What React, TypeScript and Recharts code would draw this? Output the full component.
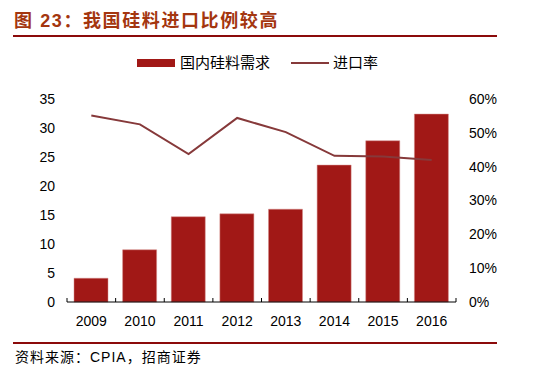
import React from "react";
import { ComposedChart, Bar, Line, XAxis, YAxis } from "recharts";

const years = ["2009", "2010", "2011", "2012", "2013", "2014", "2015", "2016"];
const demand = [4.1, 9.0, 14.7, 15.2, 16.0, 23.6, 27.8, 32.4];
const importRate = [0.551, 0.525, 0.437, 0.544, 0.502, 0.432, 0.43, 0.42];
const leftTicks = [0, 5, 10, 15, 20, 25, 30, 35];
const rightTicks = [0, 0.1, 0.2, 0.3, 0.4, 0.5, 0.6];

const data = years.map((year, i) => ({
  year,
  pos: i + 0.5,
  demand: demand[i],
  rate: importRate[i],
}));

// ticks at category edges (integers) and labels at category centres (halves)
const xTicks = Array.from({ length: years.length * 2 + 1 }, (_, i) => i / 2);

const BAR = "#a11816";
const LINE = "#86393a";
const DARK = "#8b0a0a";
const latin = "'Liberation Sans', Arial, sans-serif";
const cjk = "'Liberation Sans', 'Noto Sans CJK SC', sans-serif";

function XTick(props: any) {
  const { x, y, payload } = props;
  const v = payload.value as number;
  if (Number.isInteger(v)) {
    return <line x1={x} x2={x} y1={y} y2={y - 4} stroke="#000" strokeWidth={1} />;
  }
  return (
    <text x={x} y={y + 24} textAnchor="middle" fontSize={14} fontFamily={latin} fill="#000">
      {years[Math.floor(v)]}
    </text>
  );
}

function LegendBox() {
  return (
    <div
      style={{
        position: "absolute",
        left: 137,
        top: 53,
        display: "flex",
        alignItems: "center",
        fontFamily: cjk,
        fontSize: 15,
        lineHeight: "20px",
        color: "#000",
      }}
    >
      <span style={{ display: "inline-block", width: 38, height: 8, background: BAR, marginRight: 5 }} />
      <span>国内硅料需求</span>
      <span style={{ display: "inline-block", width: 38, height: 2, background: LINE, marginLeft: 21, marginRight: 4 }} />
      <span>进口率</span>
    </div>
  );
}

export default function App() {
  return (
    <div style={{ position: "absolute", left: 0, top: 0, width: 547, height: 383, background: "#fff" }}>
      <div
        style={{
          position: "absolute",
          left: 14,
          top: 9,
          fontFamily: cjk,
          fontWeight: "bold",
          fontSize: 18,
          letterSpacing: 1.6,
          color: "#a4360f",
          lineHeight: "24px",
        }}
      >
        图 23：我国硅料进口比例较高
      </div>
      <div style={{ position: "absolute", left: 13, top: 35, width: 484, height: 2, background: DARK }} />
      <div style={{ position: "absolute", left: 13, top: 342, width: 484, height: 2, background: DARK }} />
      <div
        style={{
          position: "absolute",
          left: 15,
          top: 347,
          fontFamily: cjk,
          fontSize: 14,
          letterSpacing: 1,
          color: "#000",
          lineHeight: "20px",
        }}
      >
        资料来源：CPIA，招商证券
      </div>
      <LegendBox />
      <ComposedChart
        width={547}
        height={383}
        data={data}
        margin={{ top: 99, right: 0, bottom: 51, left: 0 }}
        style={{ position: "absolute", left: 0, top: 0 }}
      >
        <XAxis
          dataKey="pos"
          type="number"
          domain={[0, 8]}
          ticks={xTicks}
          interval={0}
          tickLine={false}
          tickSize={0}
          tickMargin={0}
          axisLine={{ stroke: "#000", strokeWidth: 1 }}
          tick={<XTick />}
          height={30}
        />
        <YAxis
          yAxisId="left"
          domain={[0, 35]}
          ticks={leftTicks}
          interval={0}
          width={67}
          axisLine={false}
          tickLine={false}
          tickMargin={6}
          tick={{ fontSize: 14, fill: "#000", fontFamily: latin }}
        />
        <YAxis
          yAxisId="right"
          orientation="right"
          domain={[0, 0.6]}
          ticks={rightTicks}
          interval={0}
          width={91}
          axisLine={false}
          tickLine={false}
          tickMargin={7}
          tickFormatter={(v: number) => `${Math.round(v * 100)}%`}
          tick={{ fontSize: 14, fill: "#000", fontFamily: latin, textAnchor: "start" }}
        />
        <Bar
          yAxisId="left"
          dataKey="demand"
          barSize={34}
          fill={BAR}
          stroke="#d58a88"
          strokeWidth={0.5}
          isAnimationActive={false}
        />
        <Line
          yAxisId="right"
          dataKey="rate"
          stroke={LINE}
          strokeWidth={2}
          dot={false}
          activeDot={false}
          isAnimationActive={false}
        />
      </ComposedChart>
    </div>
  );
}
